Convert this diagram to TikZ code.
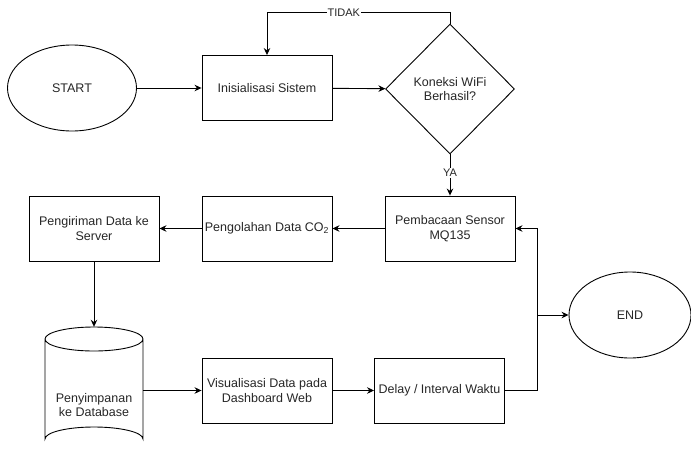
\documentclass[tikz,border=0pt]{standalone}
\usepackage{fontspec}
\setmainfont{Liberation Sans}
\usetikzlibrary{shapes.geometric,arrows.meta}
\begin{document}
\begin{tikzpicture}[x=1pt,y=-1pt,
  every node/.style={font=\fontsize{12.5}{14.5}\selectfont, text=black!85, align=center},
  box/.style={draw, line width=0.9pt, minimum width=130pt, minimum height=65pt, inner sep=0pt},
  term/.style={draw, line width=0.9pt, ellipse, minimum width=129pt, minimum height=86pt, inner sep=0pt},
  dec/.style={draw, line width=0.9pt, diamond, minimum width=129pt, minimum height=130pt, inner sep=0pt},
  flow/.style={line width=0.9pt, -{Stealth[length=7pt,width=6.5pt]}},
  lbl/.style={fill=white, inner sep=1pt, font=\fontsize{11}{13}\selectfont}
]
\useasboundingbox (0,0) rectangle (691,453);
\node[term] (start) at (72,88) {START};
\node[box] (init) at (267,88) {Inisialisasi Sistem};
\node[dec] (wifi) at (450,89) {Koneksi WiFi\\Berhasil?};
\node[box] (baca) at (450,228.5) {Pembacaan Sensor\\MQ135};
\node[box] (olah) at (267,228.5) {Pengolahan Data CO\textsubscript{2}};
\node[box] (kirim) at (94,228.5) {Pengiriman Data ke\\Server};
\node[minimum width=98pt, minimum height=124pt, inner sep=0pt] (db) at (94,389) {};
\draw[line width=0.9pt] (45,339) arc[start angle=180, end angle=360, x radius=49, y radius=12]
  (45,339) arc[start angle=180, end angle=0, x radius=49, y radius=12]
  (45,339) -- (45,439) arc[start angle=180, end angle=360, x radius=49, y radius=12] -- (143,339);
\node (dbtext) at (94,405) {Penyimpanan\\ke Database};
\node[box] (vis) at (267,390.5) {Visualisasi Data pada\\Dashboard Web};
\node[box] (delay) at (439.5,390.5) {Delay / Interval Waktu};
\node[term, minimum width=122pt] (end) at (630,315) {END};
\coordinate (tj) at (537,390.5);
\coordinate (tk) at (537,315);

\draw[flow] (start) -- (init);
\draw[flow] (init) -- (wifi);
\draw[flow] (wifi.north) -- ++(0,-11) -| (init.north) node[lbl, pos=0.29] {TIDAK};
\draw[flow] (wifi.south) -- (baca.north) node[lbl, pos=0.45] {YA};
\draw[flow] (baca) -- (olah);
\draw[flow] (olah) -- (kirim);
\draw[flow] (kirim) -- (db.north);
\draw[flow] (db.east |- vis.west) -- (vis.west);
\draw[flow] (vis) -- (delay);
\draw[flow] (delay.east) -- (tj) |- (baca.east);
\draw[flow] (tk) -- (end.west);
\end{tikzpicture}
\end{document}
